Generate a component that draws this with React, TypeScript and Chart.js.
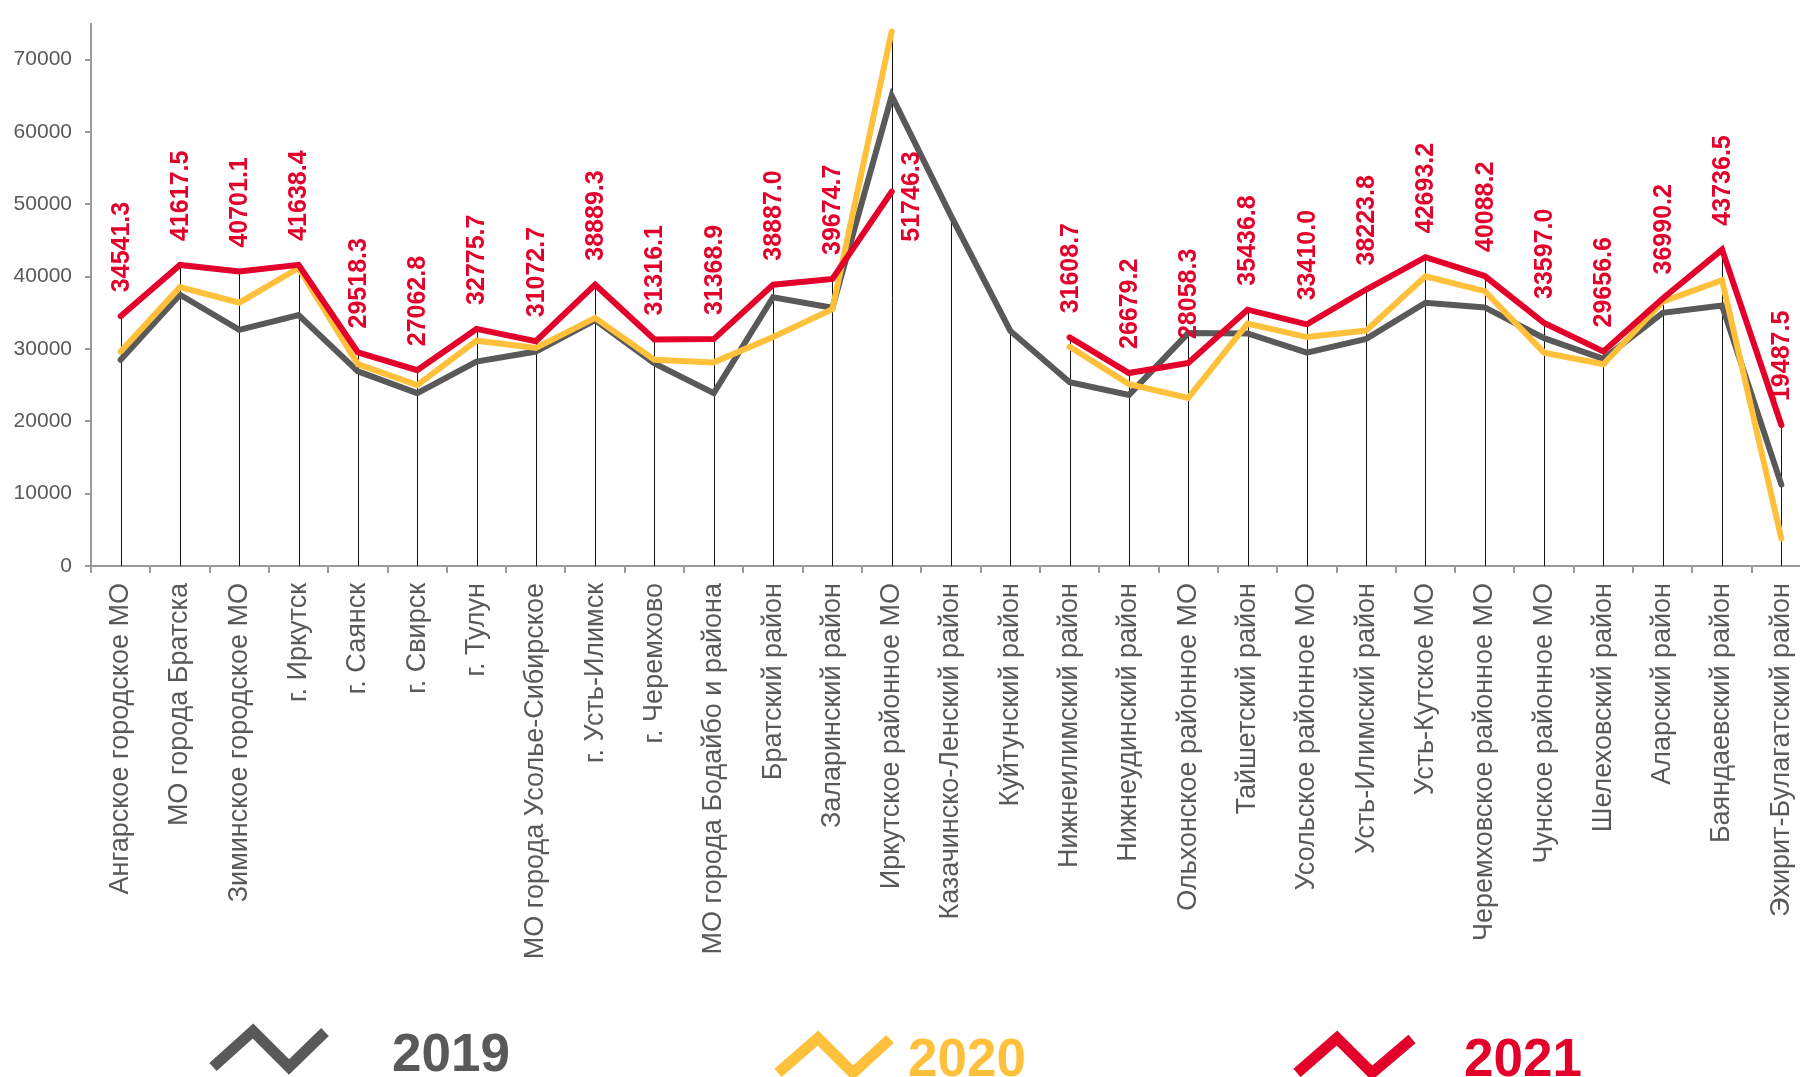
import React, { useEffect, useRef } from 'react';
import { Chart, registerables } from 'chart.js';

Chart.register(...registerables);

const categories = [
  'Ангарское городское МО',
  'МО города Братска',
  'Зиминское городское МО',
  'г. Иркутск',
  'г. Саянск',
  'г. Свирск',
  'г. Тулун',
  'МО города Усолье-Сибирское',
  'г. Усть-Илимск',
  'г. Черемхово',
  'МО города Бодайбо и района',
  'Братский район',
  'Заларинский район',
  'Иркутское районное МО',
  'Казачинско-Ленский район',
  'Куйтунский район',
  'Нижнеилимский район',
  'Нижнеудинский район',
  'Ольхонское районное МО',
  'Тайшетский район',
  'Усольское районное МО',
  'Усть-Илимский район',
  'Усть-Кутское МО',
  'Черемховское районное МО',
  'Чунское районное МО',
  'Шелеховский район',
  'Аларский район',
  'Баяндаевский район',
  'Эхирит-Булагатский район',
];

const values2019 = [
  28500, 37500, 32650, 34700, 26900, 23900, 28250, 29650, 34000, 28000,
  23900, 37150, 35700, 65000, 48400, 32500, 25400, 23650, 32200, 32150,
  29500, 31400, 36400, 35750, 31500, 28650, 35000, 36000, 11250,
];

const values2020 = [
  29650, 38550, 36400, 41200, 27900, 25000, 31150, 30150, 34300, 28500,
  28150, 31650, 35500, 73900, null, null, 30300, 25150, 23250, 33500,
  31650, 32550, 40050, 38000, 29500, 27900, 36550, 39500, 3800,
];

const values2021 = [
  34541.3, 41617.5, 40701.1, 41638.4, 29518.3, 27062.8, 32775.7, 31072.7, 38889.3, 31316.1,
  31368.9, 38887.0, 39674.7, 51746.3, null, null, 31608.7, 26679.2, 28058.3, 35436.8,
  33410.0, 38223.8, 42693.2, 40088.2, 33597.0, 29656.6, 36990.2, 43736.5, 19487.5,
];

const seriesLabels = ['2019', '2020', '2021'];
const yTicks = [0, 10000, 20000, 30000, 40000, 50000, 60000, 70000];
const yMax = 75000;

const GRAY = '#595959';
const YELLOW = '#FFC13B';
const RED = '#E3002B';
const AXIS = '#9a9a9a';
const FONT = '"Liberation Sans", Arial, sans-serif';

const dropLinesPlugin = {
  id: 'dropLines',
  beforeDatasetsDraw(chart: any) {
    const { ctx, chartArea, scales } = chart;
    const x = scales.x;
    const y = scales.y;
    ctx.save();
    ctx.strokeStyle = '#111';
    ctx.lineWidth = 1;
    chart.data.labels.forEach((_: any, i: number) => {
      const vals = chart.data.datasets
        .map((d: any) => d.data[i])
        .filter((v: any) => v !== null && v !== undefined);
      if (!vals.length) return;
      const top = y.getPixelForValue(Math.max(...vals));
      const px = Math.round(x.getPixelForValue(i)) + 0.5;
      ctx.beginPath();
      ctx.moveTo(px, top);
      ctx.lineTo(px, chartArea.bottom);
      ctx.stroke();
    });
    ctx.restore();
  },
};

const valueLabelsPlugin = {
  id: 'valueLabels',
  afterDatasetsDraw(chart: any) {
    const { ctx } = chart;
    const dsIndex = chart.data.datasets.findIndex((d: any) => d.label === '2021');
    if (dsIndex < 0) return;
    const meta = chart.getDatasetMeta(dsIndex);
    const data = chart.data.datasets[dsIndex].data;
    ctx.save();
    ctx.fillStyle = RED;
    ctx.font = `bold 25px ${FONT}`;
    ctx.textBaseline = 'middle';
    meta.data.forEach((pt: any, i: number) => {
      const v = data[i];
      if (v === null || v === undefined) return;
      const text = Number(v).toFixed(1);
      ctx.save();
      if (chart.data.labels[i] === 'Иркутское районное МО') {
        ctx.translate(pt.x + 20, pt.y + 50);
      } else {
        ctx.translate(pt.x + 1, pt.y - 24);
      }
      ctx.rotate(-Math.PI / 2);
      ctx.textAlign = 'left';
      ctx.fillText(text, 0, 0);
      ctx.restore();
    });
    ctx.restore();
  },
};

const legendPlugin = {
  id: 'customLegend',
  afterDraw(chart: any) {
    const { ctx } = chart;
    const items = [
      { label: seriesLabels[0], color: GRAY, icon: [[213, 1067], [253, 1031], [289, 1067], [325, 1032]], tx: 392, ty: 1071 },
      { label: seriesLabels[1], color: YELLOW, icon: [[778, 1073], [818, 1038], [853, 1073], [890, 1039]], tx: 908, ty: 1076 },
      { label: seriesLabels[2], color: RED, icon: [[1297, 1073], [1337, 1038], [1372, 1073], [1412, 1039]], tx: 1464, ty: 1076 },
    ];
    ctx.save();
    items.forEach((it) => {
      ctx.strokeStyle = it.color;
      ctx.lineWidth = 11;
      ctx.lineJoin = 'miter';
      ctx.lineCap = 'butt';
      ctx.beginPath();
      it.icon.forEach((p, k) => (k === 0 ? ctx.moveTo(p[0], p[1]) : ctx.lineTo(p[0], p[1])));
      ctx.stroke();
      ctx.fillStyle = it.color;
      ctx.font = `bold 53px ${FONT}`;
      ctx.textAlign = 'left';
      ctx.textBaseline = 'alphabetic';
      ctx.fillText(it.label, it.tx, it.ty);
    });
    ctx.restore();
  },
};

export default function App() {
  const canvasRef = useRef<HTMLCanvasElement | null>(null);

  useEffect(() => {
    const canvas = canvasRef.current;
    if (!canvas) return;
    const mkDataset = (label: string, data: any[], color: string, order: number) => ({
      label,
      data,
      borderColor: color,
      backgroundColor: color,
      borderWidth: 6,
      pointRadius: 0,
      tension: 0,
      spanGaps: false,
      borderCapStyle: 'round',
      borderJoinStyle: 'miter',
      order,
    });
    const chart = new Chart(canvas, {
      type: 'line',
      data: {
        labels: categories,
        datasets: [
          mkDataset(seriesLabels[0], values2019, GRAY, 3),
          mkDataset(seriesLabels[1], values2020, YELLOW, 2),
          mkDataset(seriesLabels[2], values2021, RED, 1),
        ],
      },
      options: {
        responsive: false,
        animation: false,
        layout: { padding: { top: 10, right: 19, left: 0, bottom: 0 } },
        plugins: {
          legend: { display: false },
          tooltip: { enabled: false },
          title: { display: false },
        },
        scales: {
          x: {
            type: 'category',
            offset: true,
            grid: {
              offset: true,
              drawOnChartArea: false,
              drawTicks: true,
              tickLength: 7,
              color: AXIS,
              lineWidth: 2,
            },
            border: { display: true, color: AXIS, width: 2 },
            ticks: {
              autoSkip: false,
              minRotation: 90,
              maxRotation: 90,
              padding: 10,
              color: GRAY,
              font: { family: FONT, size: 27 },
            },
            afterFit: (scale: any) => {
              scale.height = 511;
            },
          },
          y: {
            min: 0,
            max: yMax,
            grid: {
              drawOnChartArea: false,
              drawTicks: true,
              tickLength: 6,
              color: AXIS,
              lineWidth: 2,
            },
            border: { display: true, color: AXIS, width: 2 },
            ticks: {
              padding: 13,
              color: GRAY,
              font: { family: FONT, size: 21, lineHeight: 1 },
              callback: (v: any) => String(v),
            },
            afterBuildTicks: (scale: any) => {
              scale.ticks = yTicks.map((v) => ({ value: v }));
            },
            afterFit: (scale: any) => {
              scale.width = 91;
            },
          },
        },
      },
      plugins: [dropLinesPlugin, valueLabelsPlugin, legendPlugin],
    } as any);
    return () => chart.destroy();
  }, []);

  return (
    <div
      style={{
        position: 'fixed',
        left: 0,
        top: 0,
        width: 1800,
        height: 1077,
        overflow: 'hidden',
        background: '#fff',
      }}
    >
      <canvas
        ref={canvasRef}
        width={1830}
        height={1077}
        style={{ width: 1830, height: 1077, display: 'block' }}
      />
    </div>
  );
}
